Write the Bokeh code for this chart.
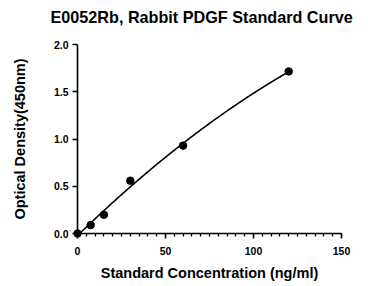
import numpy as np
from bokeh.plotting import figure
from bokeh.models import Range1d, SingleIntervalTicker, NumeralTickFormatter
from bokeh.embed import file_html
from bokeh.resources import INLINE

conc = [0, 7.5, 15, 30, 60, 120]
od = [0.0, 0.089, 0.198, 0.559, 0.93, 1.715]
title_text = "E0052Rb, Rabbit PDGF Standard Curve"

FONT = "Liberation Sans"

p = figure(width=360, height=286, output_backend="svg", toolbar_location=None,
           x_range=Range1d(0, 150), y_range=Range1d(0, 2.0),
           min_border_left=77, min_border_right=19, min_border_top=44, min_border_bottom=53)
p.outline_line_color = None
p.grid.visible = False
p.background_fill_color = "white"
p.border_fill_color = "white"

# trailing empty line lifts the title away from the plot frame
p.title.text = title_text + "\n"
p.title.text_font = FONT
p.title.text_font_size = "16.2px"
p.title.text_font_style = "bold"
p.title.text_color = "black"
p.title.align = "left"
p.title.offset = -27
p.title.standoff = 2

# fitted curve computed from the data
coef = np.polyfit(conc, od, 2)
xs = np.linspace(0, max(conc), 200)
ys = np.polyval(coef, xs)
p.line(xs, ys, line_color="black", line_width=1.6, level="overlay")
p.scatter(conc, od, size=7.5, color="black", level="overlay")

for ax in (p.xaxis[0], p.yaxis[0]):
    ax.axis_line_width = 1.6
    ax.major_tick_line_width = 1.6
    ax.minor_tick_line_width = 1.3
    ax.major_tick_in = 0
    ax.major_tick_out = 5
    ax.major_label_text_font = FONT
    ax.major_label_text_font_style = "bold"
    ax.major_label_text_font_size = "10.5px"
    ax.major_label_text_color = "black"
    ax.axis_label_text_font = FONT
    ax.axis_label_text_font_style = "bold"
    ax.axis_label_text_font_size = "14.5px"
    ax.axis_label_text_color = "black"

p.xaxis.ticker = SingleIntervalTicker(interval=50, num_minor_ticks=10)
p.xaxis.minor_tick_in = 0
p.xaxis.minor_tick_out = 3
p.xaxis.major_label_standoff = 8
p.xaxis.axis_label = "Standard Concentration (ng/ml)"
p.xaxis.axis_label_standoff = 7

p.yaxis.ticker = SingleIntervalTicker(interval=0.5, num_minor_ticks=0)
p.yaxis.minor_tick_line_color = None
p.yaxis.formatter = NumeralTickFormatter(format="0.0")
p.yaxis.major_label_standoff = 4
p.yaxis.axis_label = "Optical Density(450nm)"
p.yaxis.axis_label_standoff = 23

open("out.html", "w").write(file_html(p, INLINE))
